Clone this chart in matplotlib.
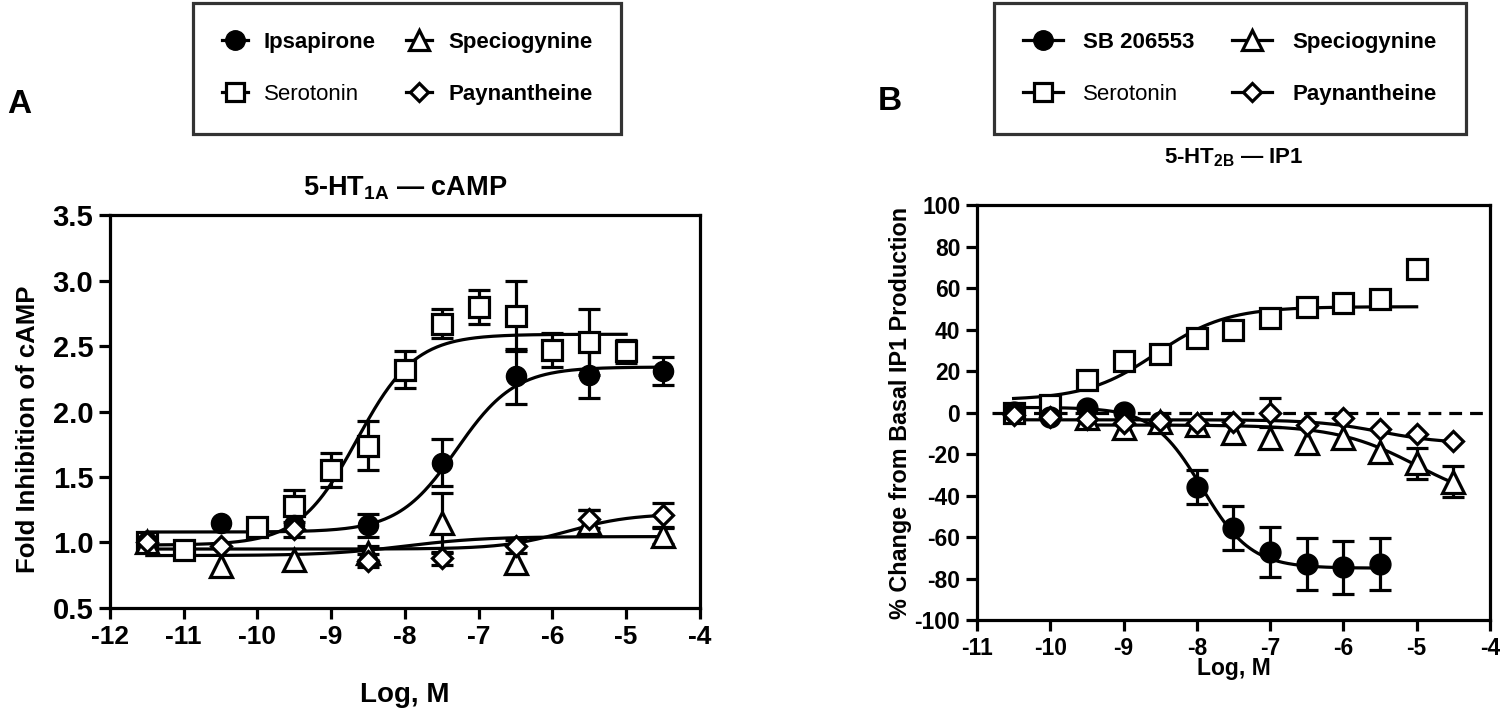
import numpy as np
import matplotlib
matplotlib.use("Agg")
import matplotlib.pyplot as plt
from matplotlib.lines import Line2D

plt.rcParams['font.family'] = ['Liberation Sans', 'DejaVu Sans']
plt.rcParams['font.weight'] = 'bold'
plt.rcParams['axes.unicode_minus'] = False
plt.rcParams['mathtext.fontset'] = 'custom'
plt.rcParams['mathtext.bf'] = 'Liberation Sans:bold'
plt.rcParams['mathtext.rm'] = 'Liberation Sans:bold'

# ---- Panel A: 5-HT1A cAMP (fold inhibition) ----
a_ser_x = [-11.5, -11, -10, -9.5, -9, -8.5, -8, -7.5, -7, -6.5, -6, -5.5, -5]
a_ser_y = [1.00, 0.94, 1.12, 1.28, 1.55, 1.74, 2.32, 2.67, 2.80, 2.73, 2.47, 2.53, 2.46]
a_ser_e = [0, 0, 0, 0.12, 0.13, 0.19, 0.14, 0.11, 0.13, 0.27, 0.13, 0.25, 0.09]

a_ips_x = [-11.5, -10.5, -9.5, -8.5, -7.5, -6.5, -5.5, -4.5]
a_ips_y = [1.00, 1.15, 1.13, 1.13, 1.61, 2.27, 2.28, 2.31]
a_ips_e = [0, 0, 0.09, 0.09, 0.18, 0.21, 0.18, 0.11]

a_spe_x = [-11.5, -10.5, -9.5, -8.5, -7.5, -6.5, -5.5, -4.5]
a_spe_y = [1.00, 0.82, 0.87, 0.92, 1.15, 0.84, 1.15, 1.05]
a_spe_e = [0, 0, 0, 0.05, 0.23, 0, 0.10, 0.06]

a_pay_x = [-11.5, -10.5, -9.5, -8.5, -7.5, -6.5, -5.5, -4.5]
a_pay_y = [1.00, 0.97, 1.10, 0.86, 0.88, 0.97, 1.18, 1.21]
a_pay_e = [0, 0, 0, 0.05, 0.05, 0.05, 0.07, 0.09]

# fitted 4PL parameters: bottom, top, logEC50, hill, x-start, x-end
a_ser_fit = [0.98, 2.59, -8.65, 1.1, -11.5, -5.0]
a_ips_fit = [1.08, 2.34, -7.3, 1.1, -11.5, -4.5]
a_spe_fit = [0.90, 1.045, -8.0, 0.8, -11.5, -4.5]
a_pay_fit = [0.95, 1.22, -5.8, 1.0, -11.5, -4.5]

# ---- Panel B: 5-HT2B IP1 (% change from basal) ----
b_ser_x = [-10.5, -10, -9.5, -9, -8.5, -8, -7.5, -7, -6.5, -6, -5.5, -5]
b_ser_y = [0, 3.7, 15.8, 25, 28, 36, 40, 45.7, 51, 53, 54.6, 69]

b_sb_x = [-10.5, -10, -9.5, -9, -8.5, -8, -7.5, -7, -6.5, -6, -5.5]
b_sb_y = [0.5, -2, 2, 0.5, -4.4, -35.9, -55.7, -67.4, -73, -74.6, -73]
b_sb_e = [0, 0, 0, 0, 0, 8, 10.5, 12, 12.5, 12.8, 12.5]

b_spe_x = [-9.5, -9, -8.5, -8, -7.5, -7, -6.5, -6, -5.5, -5, -4.5]
b_spe_y = [-2.7, -7.6, -4.4, -6, -10, -12.4, -14.9, -12.4, -19, -24.5, -33.4]
b_spe_e = [0, 0, 0, 0, 0, 0, 0, 0, 0, 7.5, 7.5]

b_pay_x = [-10.5, -10, -9.5, -9, -8.5, -8, -7.5, -7, -6.5, -6, -5.5, -5, -4.5]
b_pay_y = [-1, -2, -3, -5, -4, -5, -4.4, 0, -6, -2.7, -8, -10.5, -13.7]
b_pay_e = [0, 0, 0, 0, 0, 0, 0, 7, 0, 0, 0, 0, 0]

b_ser_fit = [6, 51, -8.55, 0.9, -10.5, -5.0]
b_sb_fit = [2.5, -75, -7.93, 1.3, -10.5, -5.5]
b_spe_fit = [-6, -45, -5.0, 0.8, -9.5, -4.5]
b_pay_fit = [-3.5, -15, -5.5, 1.0, -10.5, -4.5]


def four_pl(fit):
    bottom, top, logec, hill, x0, x1 = fit
    xs = np.linspace(x0, x1, 300)
    return xs, bottom + (top - bottom) / (1 + 10 ** ((logec - xs) * hill))


def draw_series(ax, x, y, err, fit, marker, face, ms, mew):
    x = np.array(x)
    y = np.array(y)
    if err is not None:
        err = np.array(err)
        m = err > 0
        ax.errorbar(x[m], y[m], yerr=err[m], fmt='none', ecolor='black',
                    elinewidth=2.3, capsize=8, capthick=2.3, zorder=2)
    xs, ys = four_pl(fit)
    ax.plot(xs, ys, color='black', lw=2.3, zorder=3)
    ax.plot(x, y, linestyle='none', marker=marker, ms=ms, mfc=face,
            mec='black', mew=mew, zorder=4)


def style_axes(ax, xsize, ysize):
    for s in ax.spines.values():
        s.set_linewidth(2.3)
    ax.tick_params(axis='both', width=2.3, length=8, pad=4)
    ax.tick_params(axis='x', labelsize=xsize)
    ax.tick_params(axis='y', labelsize=ysize)
    for lab in ax.get_xticklabels() + ax.get_yticklabels():
        lab.set_fontweight('bold')


fig = plt.figure(figsize=(15, 7.13), dpi=100)

# Panel A
axA = fig.add_axes([0.0733, 0.1473, 0.3933, 0.551])
draw_series(axA, a_ser_x, a_ser_y, a_ser_e, a_ser_fit, 's', 'white', 14.5, 2.3)
draw_series(axA, a_ips_x, a_ips_y, a_ips_e, a_ips_fit, 'o', 'black', 14.5, 1)
draw_series(axA, a_spe_x, a_spe_y, a_spe_e, a_spe_fit, '^', 'white', 16, 2.3)
draw_series(axA, a_pay_x, a_pay_y, a_pay_e, a_pay_fit, 'D', 'white', 10, 2.3)
axA.set_xlim(-12, -4)
axA.set_ylim(0.5, 3.5)
axA.set_xticks(np.arange(-12, -3, 1))
axA.set_yticks(np.arange(0.5, 3.51, 0.5))
axA.set_yticklabels([f"{v:.1f}" for v in np.arange(0.5, 3.51, 0.5)])
axA.set_xlabel("Log, M", fontsize=20, fontweight='bold', labelpad=24)
axA.set_ylabel("Fold Inhibition of cAMP", fontsize=18.5, fontweight='bold')
axA.yaxis.set_label_coords(-0.118, 0.455)
axA.set_title(r"5-HT$_{\mathbf{1A}}$ — cAMP", fontsize=19.5, fontweight='bold', pad=14)
style_axes(axA, 19, 21)

# Panel B
axB = fig.add_axes([0.6513, 0.1304, 0.342, 0.582])
axB.axhline(0, xmin=0.03, xmax=1, color='black', lw=2.3, ls=(0, (4, 2.5)), zorder=1)
draw_series(axB, b_ser_x, b_ser_y, None, b_ser_fit, 's', 'white', 15, 2.3)
draw_series(axB, b_sb_x, b_sb_y, b_sb_e, b_sb_fit, 'o', 'black', 15, 1)
draw_series(axB, b_spe_x, b_spe_y, b_spe_e, b_spe_fit, '^', 'white', 16, 2.3)
draw_series(axB, b_pay_x, b_pay_y, b_pay_e, b_pay_fit, 'D', 'white', 10, 2.3)
axB.set_xlim(-11, -4)
axB.set_ylim(-100, 100)
axB.set_xticks(np.arange(-11, -3, 1))
axB.set_yticks(np.arange(-100, 101, 20))
axB.set_xlabel("Log, M", fontsize=16.5, fontweight='bold', labelpad=-2)
axB.set_ylabel("% Change from Basal IP1 Production", fontsize=16.8, fontweight='bold', labelpad=2)
axB.set_title(r"5-HT$_{\mathbf{2B}}$ — IP1", fontsize=16, fontweight='bold', pad=30)
style_axes(axB, 16.5, 16.5)

# panel letters
fig.text(0.005, 0.854, "A", fontsize=24, fontweight='bold', va='center')
fig.text(0.585, 0.858, "B", fontsize=24, fontweight='bold', va='center')


def make_handle(marker, face, ms, mew):
    return Line2D([], [], color='black', lw=2.3, marker=marker, ms=ms,
                  mfc=face, mec='black', mew=mew)


# legends
hA = [make_handle('o', 'black', 14, 1), make_handle('s', 'white', 13, 2.3),
      make_handle('^', 'white', 15, 2.3), make_handle('D', 'white', 9.5, 2.3)]
legA = fig.legend(hA, ["Ipsapirone", "Serotonin", "Speciogynine", "Paynantheine"],
                  loc='upper center', bbox_to_anchor=(0.2713, 0.996), ncol=2,
                  handlelength=1.2, handletextpad=0.7,
                  columnspacing=1.35, labelspacing=1.4, borderpad=1.3,
                  borderaxespad=0, fancybox=False, edgecolor='black',
                  prop={'weight': 'bold', 'size': 16})
legA.get_frame().set_linewidth(2.3)
legA.get_texts()[1].set_fontweight('normal')

hB = [make_handle('o', 'black', 14, 1), make_handle('s', 'white', 13, 2.3),
      make_handle('^', 'white', 15, 2.3), make_handle('D', 'white', 9.5, 2.3)]
legB = fig.legend(hB, ["SB 206553", "Serotonin", "Speciogynine", "Paynantheine"],
                  loc='upper center', bbox_to_anchor=(0.820, 0.996), ncol=2,
                  handlelength=1.8, handletextpad=0.9,
                  columnspacing=1.7, labelspacing=1.4, borderpad=1.3,
                  borderaxespad=0, fancybox=False, edgecolor='black',
                  prop={'weight': 'bold', 'size': 16})
legB.get_frame().set_linewidth(2.3)
legB.get_texts()[1].set_fontweight('normal')

fig.savefig("out.png", dpi=100)
